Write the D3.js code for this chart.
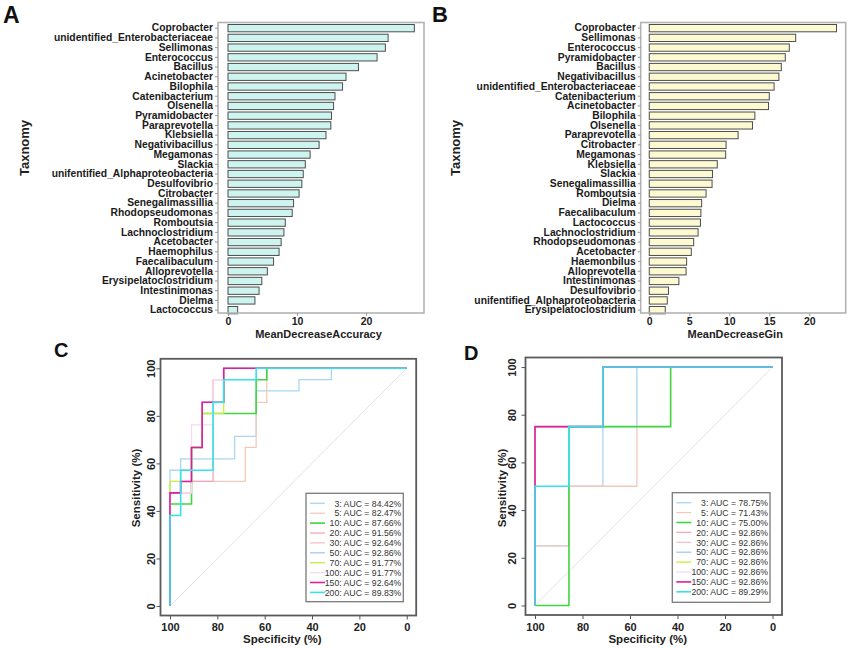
<!DOCTYPE html>
<html>
<head>
<meta charset="utf-8">
<script src="https://cdn.jsdelivr.net/npm/d3@7"></script>
<style>
  body { margin: 0; background: #fff; }
  svg { font-family: "Liberation Sans", Arial, sans-serif; }
</style>
</head>
<body>
<svg id="fig" width="850" height="649"></svg>
<script>
// panel A: MeanDecreaseAccuracy
const taxaA = ["Coprobacter", "unidentified_Enterobacteriaceae", "Sellimonas", "Enterococcus", "Bacillus",
  "Acinetobacter", "Bilophila", "Catenibacterium", "Olsenella", "Pyramidobacter", "Paraprevotella",
  "Klebsiella", "Negativibacillus", "Megamonas", "Slackia", "unifentified_Alphaproteobacteria",
  "Desulfovibrio", "Citrobacter", "Senegalimassillia", "Rhodopseudomonas", "Romboutsia",
  "Lachnoclostridium", "Acetobacter", "Haemophilus", "Faecalibaculum", "Alloprevotella",
  "Erysipelatoclostridium", "Intestinimonas", "Dielma", "Lactococcus"];
const accuracy = [27.0, 23.2, 22.8, 21.6, 18.9, 17.1, 16.6, 15.5, 15.3, 15.0, 14.9, 14.2, 13.2, 11.9, 11.2,
  10.9, 10.7, 10.3, 9.5, 9.3, 8.3, 8.1, 7.7, 7.4, 6.6, 5.7, 4.9, 4.5, 3.9, 1.4];
const accTicks = [0, 10, 20];

// panel B: MeanDecreaseGini
const taxaB = ["Coprobacter", "Sellimonas", "Enterococcus", "Pyramidobacter", "Bacillus", "Negativibacillus",
  "unidentified_Enterobacteriaceae", "Catenibacterium", "Acinetobacter", "Bilophila", "Olsenella",
  "Paraprevotella", "Citrobacter", "Megamonas", "Klebsiella", "Slackia", "Senegalimassillia", "Romboutsia",
  "Dielma", "Faecalibaculum", "Lactococcus", "Lachnoclostridium", "Rhodopseudomonas", "Acetobacter",
  "Haemonbilus", "Alloprevotella", "Intestinimonas", "Desulfovibrio", "unifentified_Alphaproteobacteria",
  "Erysipelatoclostridium"];
const gini = [23.4, 18.3, 17.5, 17.0, 16.5, 16.2, 15.6, 15.0, 14.9, 13.2, 12.9, 11.1, 9.6, 9.55, 8.5, 7.9,
  7.85, 7.1, 6.55, 6.45, 6.4, 6.1, 5.55, 5.25, 4.67, 4.6, 3.7, 2.4, 2.25, 2.0];
const giniTicks = [0, 5, 10, 15, 20];

// panels C, D: ROC curves, points are [specificity, sensitivity] in %
const rocSizes = ["3", "5", "10", "20", "30", "50", "70", "100", "150", "200"];
const aucC = ["84.42", "82.47", "87.66", "91.56", "92.64", "92.86", "91.77", "91.77", "92.64", "89.83"];
const aucD = ["78.75", "71.43", "75.00", "92.86", "92.86", "92.86", "92.86", "92.86", "92.86", "89.29"];
const specTicks = [100, 80, 60, 40, 20, 0];
const sensTicks = [0, 20, 40, 60, 80, 100];

const curvesC = [
  [[100,0],[100,57.1],[95.5,57.1],[95.5,61.9],[72.7,61.9],[72.7,71.4],[63.6,71.4],[63.6,90.5],[45.5,90.5],[45.5,95.2],[31.8,95.2],[31.8,100],[0,100]],
  [[100,0],[100,38.1],[95.5,38.1],[95.5,52.4],[68.2,52.4],[68.2,66.7],[63.6,66.7],[63.6,85.7],[59.1,85.7],[59.1,100],[0,100]],
  [[100,0],[100,42.9],[90.9,42.9],[90.9,66.7],[86.4,66.7],[86.4,81.0],[63.6,81.0],[63.6,95.2],[59.1,95.2],[59.1,100],[0,100]],
  [[100,0],[100,47.6],[90.9,47.6],[90.9,52.4],[81.8,52.4],[81.8,95.2],[77.3,95.2],[77.3,100],[0,100]],
  [[100,0],[100,47.6],[95.5,47.6],[95.5,52.4],[90.9,52.4],[90.9,66.7],[86.4,66.7],[86.4,85.7],[81.8,85.7],[81.8,95.2],[77.3,95.2],[77.3,100],[0,100]],
  [[100,0],[100,47.6],[95.5,47.6],[95.5,57.1],[90.9,57.1],[90.9,66.7],[86.4,66.7],[86.4,85.7],[77.3,85.7],[77.3,100],[0,100]],
  [[100,0],[100,52.4],[95.5,52.4],[95.5,57.1],[90.9,57.1],[90.9,66.7],[86.4,66.7],[86.4,81.0],[77.3,81.0],[77.3,100],[0,100]],
  [[100,0],[100,47.6],[90.9,47.6],[90.9,76.2],[81.8,76.2],[81.8,95.2],[77.3,95.2],[77.3,100],[0,100]],
  [[100,0],[100,47.6],[95.5,47.6],[95.5,52.4],[90.9,52.4],[90.9,66.7],[86.4,66.7],[86.4,85.7],[77.3,85.7],[77.3,100],[0,100]],
  [[100,0],[100,38.1],[95.5,38.1],[95.5,57.1],[81.8,57.1],[81.8,85.7],[77.3,85.7],[77.3,95.2],[63.6,95.2],[63.6,100],[0,100]]
];
const curvesD = [
  [[100,0],[100,25],[85.7,25],[85.7,50],[71.4,50],[71.4,75],[57.1,75],[57.1,100],[0,100]],
  [[100,0],[100,25],[85.7,25],[85.7,50],[57.1,50],[57.1,75],[42.9,75],[42.9,100],[0,100]],
  [[100,0],[85.7,0],[85.7,75],[42.9,75],[42.9,100],[0,100]],
  [[100,0],[100,75],[71.4,75],[71.4,100],[0,100]],
  [[100,0],[100,75],[71.4,75],[71.4,100],[0,100]],
  [[100,0],[100,75],[71.4,75],[71.4,100],[0,100]],
  [[100,0],[100,75],[71.4,75],[71.4,100],[0,100]],
  [[100,0],[100,75],[71.4,75],[71.4,100],[0,100]],
  [[100,0],[100,75],[71.4,75],[71.4,100],[0,100]],
  [[100,0],[100,50],[85.7,50],[85.7,75],[71.4,75],[71.4,100],[0,100]]
];
const rocColors = ["#a9d6f0", "#f3c9bd", "#3fd63f", "#f4a6bb", "#f7bfc6", "#a3c9f2",
  "#c6ee3a", "#f6d9f2", "#db1f9f", "#35e2f0"];
const rocWidths = [1.3, 1.3, 1.6, 1.3, 1.3, 1.3, 1.3, 1.3, 1.6, 1.6];

const svg = d3.select("#fig");
svg.append("rect").attr("width", 850).attr("height", 649).attr("fill", "#fff");

function panelLetter(t, x, y, size) {
  svg.append("text").attr("x", x).attr("y", y).attr("font-size", size)
    .attr("font-weight", "bold").attr("fill", "#111").text(t);
}

function drawBars(o) {
  const x = d3.scaleLinear().domain(o.xDom).range([o.left, o.right]);
  const y = d3.scaleBand().domain(o.taxa).range([24.5, 313.8]).paddingInner(0.25);
  const g = svg.append("g");

  g.selectAll("rect.bar").data(o.values).enter().append("rect")
    .attr("x", x(0))
    .attr("y", (d, i) => y(o.taxa[i]))
    .attr("width", d => x(d) - x(0))
    .attr("height", y.bandwidth())
    .attr("fill", o.fill).attr("stroke", "#4d4d4d").attr("stroke-width", 1);

  g.append("rect").attr("x", o.left).attr("y", 22.5)
    .attr("width", o.right - o.left).attr("height", 313 - 22.5)
    .attr("fill", "none").attr("stroke", "#b3b3b3").attr("stroke-width", 1.6);

  const ya = g.append("g").attr("transform", `translate(${o.left},0)`)
    .call(d3.axisLeft(y).tickSize(3).tickPadding(2));
  ya.select(".domain").remove();
  ya.selectAll("line").attr("stroke", "#999");
  ya.selectAll("text").attr("font-size", 10.3).attr("font-weight", "bold").attr("fill", "#1a1a1a")
    .attr("font-family", "Liberation Sans, Arial, sans-serif");

  const xa = g.append("g").attr("transform", "translate(0,313)")
    .call(d3.axisBottom(x).tickValues(o.ticks).tickSize(3).tickPadding(1.5));
  xa.select(".domain").remove();
  xa.selectAll("line").attr("stroke", "#999");
  xa.selectAll("text").attr("font-size", 10.5).attr("font-weight", "bold").attr("fill", "#222")
    .attr("font-family", "Liberation Sans, Arial, sans-serif");

  g.append("text").attr("x", (o.left + o.right) / 2 + o.titleShift).attr("y", 337.5)
    .attr("text-anchor", "middle").attr("font-size", 11).attr("font-weight", "bold")
    .attr("fill", "#222").text(o.title);
  g.append("text").attr("transform", `translate(${o.taxX},148) rotate(-90)`)
    .attr("text-anchor", "middle").attr("font-size", 13).attr("font-weight", "bold")
    .attr("fill", "#222").text("Taxnomy");
}

drawBars({ taxa: taxaA, values: accuracy, xDom: [-1.45, 28.4], left: 218, right: 424,
  ticks: accTicks, fill: "#cdf4ef", title: "MeanDecreaseAccuracy", titleShift: -2.5, taxX: 28.5 });
drawBars({ taxa: taxaB, values: gini, xDom: [-1.07, 24.55], left: 640.7, right: 845.7,
  ticks: giniTicks, fill: "#fdfad2", title: "MeanDecreaseGin", titleShift: -8, taxX: 460 });

panelLetter("A", 3, 23, 23);
panelLetter("B", 432, 22, 22);

function drawRoc(o) {
  const x = d3.scaleLinear().domain([104, -4]).range([o.left, o.right]);
  const y = d3.scaleLinear().domain([-4, 104]).range([o.bottom, o.top]);
  const g = svg.append("g");

  g.append("line").attr("x1", x(100)).attr("y1", y(0)).attr("x2", x(0)).attr("y2", y(100))
    .attr("stroke", "#e2e2e2").attr("stroke-width", 1);

  const line = d3.line().x(d => x(d[0])).y(d => y(d[1]));
  o.curves.forEach((c, i) => {
    g.append("path").attr("d", line(c)).attr("fill", "none")
      .attr("stroke", rocColors[i]).attr("stroke-width", rocWidths[i]);
  });

  g.append("rect").attr("x", o.left).attr("y", o.top)
    .attr("width", o.right - o.left).attr("height", o.bottom - o.top)
    .attr("fill", "none").attr("stroke", "#5a5a5a").attr("stroke-width", 1.8);

  const xa = g.append("g").attr("transform", `translate(0,${o.bottom})`)
    .call(d3.axisBottom(x).tickValues(specTicks).tickSize(4).tickPadding(4));
  xa.select(".domain").remove();
  xa.selectAll("line").attr("stroke", "#555");
  xa.selectAll("text").attr("font-size", 11).attr("font-weight", "bold").attr("fill", "#222")
    .attr("font-family", "Liberation Sans, Arial, sans-serif");

  const ya = g.append("g").attr("transform", `translate(${o.left},0)`)
    .call(d3.axisLeft(y).tickValues(sensTicks).tickSize(4));
  ya.select(".domain").remove();
  ya.selectAll("line").attr("stroke", "#555");
  ya.selectAll("text").attr("font-size", 11).attr("font-weight", "bold").attr("fill", "#222")
    .attr("font-family", "Liberation Sans, Arial, sans-serif")
    .attr("transform", "rotate(-90)").attr("x", 0).attr("y", -o.yLab).attr("dy", 0)
    .attr("text-anchor", "middle");

  g.append("text").attr("x", (x(100) + x(0)) / 2 - 6).attr("y", 643)
    .attr("text-anchor", "middle").attr("font-size", 11.5).attr("font-weight", "bold")
    .attr("fill", "#222").text("Specificity (%)");
  g.append("text").attr("transform", `translate(${o.sensX},488) rotate(-90)`)
    .attr("text-anchor", "middle").attr("font-size", 11.5).attr("font-weight", "bold")
    .attr("fill", "#222").text("Sensitivity (%)");

  // legend
  const L = o.legend;
  g.append("rect").attr("x", L.x).attr("y", L.y).attr("width", L.w).attr("height", L.h)
    .attr("fill", "#fff").attr("stroke", "#7a7a7a").attr("stroke-width", 1.3);
  rocSizes.forEach((s, i) => {
    const ly = L.y + 10 + i * 9.9;
    g.append("line").attr("x1", L.x + 4).attr("x2", L.x + 19).attr("y1", ly).attr("y2", ly)
      .attr("stroke", rocColors[i]).attr("stroke-width", rocWidths[i]);
    g.append("text").attr("x", L.x + L.w - 2).attr("y", ly + 3.2)
      .attr("text-anchor", "end").attr("font-size", 8.7).attr("fill", "#333")
      .text(`${s}: AUC = ${o.auc[i]}%`);
  });
}

drawRoc({ curves: curvesC, auc: aucC, left: 160.5, right: 416.2, top: 358.8, bottom: 615.5,
  yLab: 5.5, sensX: 140, legend: { x: 306, y: 493.3, w: 97.3, h: 108.4 } });
drawRoc({ curves: curvesD, auc: aucD, left: 525.5, right: 782, top: 357.5, bottom: 615,
  yLab: 10, sensX: 506, legend: { x: 672.3, y: 492.7, w: 97.7, h: 109.6 } });

panelLetter("C", 54, 357, 20);
panelLetter("D", 464, 360, 20);
</script>
</body>
</html>
